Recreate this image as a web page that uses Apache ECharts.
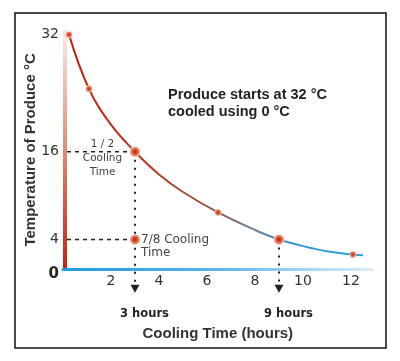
<!DOCTYPE html>
<html><head><meta charset="utf-8">
<script src="https://cdn.jsdelivr.net/npm/echarts@6/dist/echarts.min.js"></script>
<style>html,body{margin:0;padding:0;background:#fff}#c{width:400px;height:361px}</style>
</head><body><div id="c"></div>
<script>
const curveHours = [0.25, 1.08, 2, 3, 4, 5, 6.46, 8, 9, 10, 11, 12.08, 12.5];
const curveTemps = [32, 24.6, 19.7, 16, 12.9, 10.5, 7.7, 5.3, 4.0, 3.1, 2.4, 1.95, 1.85];
const smallDotHours = [0.25, 1.08, 6.46, 12.08];
const smallDotTemps = [32, 24.6, 7.7, 1.95];
const keyDotHours = [3, 3, 9];
const keyDotTemps = [16, 4, 4];
const keyDotLabels = ['1 / 2\nCooling\nTime', '7/8 Cooling\nTime', ''];
const horizGuideHours = [3, 3];
const horizGuideTemps = [16, 4];
const vertGuideHours = [3, 9];
const vertGuideTemps = [16, 4];
const vertGuideLabels = ['3 hours', '9 hours'];
const xTickValues = [2, 4, 6, 8, 10, 12];
const yTickValues = [0, 4, 16, 32];
const xAxisTitle = 'Cooling Time (hours)';
const yAxisTitle = 'Temperature of Produce °C';
const noteLines = ['Produce starts at 32 °C', 'cooled using 0 °C'];

const zip = (a, b) => a.map((v, i) => [v, b[i]]);
const G = echarts.graphic;
const chart = echarts.init(document.getElementById('c'), null, {renderer: 'canvas'});

const smallDotFill = new G.RadialGradient(0.5, 0.5, 0.5, [
  {offset: 0, color: '#c8260e'}, {offset: 0.55, color: '#dc6a4c'}, {offset: 1, color: '#f4cbb9'}]);
const bigDotFill = new G.RadialGradient(0.5, 0.5, 0.5, [
  {offset: 0, color: '#c4200c'}, {offset: 0.5, color: '#da5a38'}, {offset: 1, color: '#f8dccf'}]);

const labelCfg = [
  {show: true, position: 'inside', offset: [-32.5, 7], align: 'center', verticalAlign: 'middle',
   fontFamily: 'DejaVu Sans', fontSize: 10.5, lineHeight: 14, color: '#444'},
  {show: true, position: 'inside', offset: [6, 6.7], align: 'left', verticalAlign: 'middle',
   fontFamily: 'DejaVu Sans', fontSize: 12, lineHeight: 13.5, color: '#444'},
  {show: false}
];

const option = {
  animation: false,
  backgroundColor: '#fff',
  title: {
    text: noteLines.join('\n'), left: 168, top: 86, padding: 0,
    textStyle: {fontFamily: 'Liberation Sans', fontWeight: 'bold', fontSize: 14.5, lineHeight: 17, color: '#222'}
  },
  grid: {left: 63, right: 27.4, top: 31, bottom: 92.2, containLabel: false, outerBoundsMode: 'none'},
  xAxis: {
    type: 'value', min: 0, max: 12.9,
    name: xAxisTitle, nameLocation: 'middle', nameGap: 58, nameMoveOverlap: false,
    nameTextStyle: {fontFamily: 'Liberation Sans', fontWeight: 'bold', fontSize: 15, color: '#333'},
    axisLine: {show: true, onZero: false, lineStyle: {width: 3, color: new G.LinearGradient(0, 0, 1, 0, [
      {offset: 0, color: '#1f9be0'}, {offset: 0.5, color: '#5ab4e8'}, {offset: 1, color: '#dcefFa'}])}},
    axisTick: {show: false},
    splitLine: {show: false},
    axisLabel: {customValues: xTickValues, margin: 6, fontFamily: 'DejaVu Sans', fontSize: 14, color: '#333'}
  },
  yAxis: {
    type: 'value', min: 0, max: 32.5, offset: -2,
    name: yAxisTitle, nameLocation: 'middle', nameGap: 27, nameMoveOverlap: false,
    nameTextStyle: {fontFamily: 'Liberation Sans', fontWeight: 'bold', fontSize: 15, color: '#333'},
    axisLine: {show: true, onZero: false, lineStyle: {width: 4, color: new G.LinearGradient(0, 0, 0, 1, [
      {offset: 0, color: '#fbece6'}, {offset: 0.5, color: '#e28a70'}, {offset: 1, color: '#c2200e'}])}},
    axisTick: {show: false},
    splitLine: {show: false},
    axisLabel: {
      customValues: yTickValues, margin: 6, fontFamily: 'DejaVu Sans', fontSize: 14, color: '#333',
      formatter: v => v === 0 ? '{z|0}' : String(v),
      rich: {z: {fontFamily: 'DejaVu Sans', fontWeight: 'bold', fontSize: 15, color: '#222', padding: [10, 0, 0, 0]}}
    }
  },
  graphic: [{
    type: 'rect', shape: {x: 15, y: 13, width: 371, height: 335},
    style: {fill: 'none', stroke: '#111', lineWidth: 1.5}, z: 0
  }],
  series: [
    {
      type: 'line', data: zip(curveHours, curveTemps), smooth: 0.4, symbol: 'none', z: 2,
      lineStyle: {width: 2, color: new G.LinearGradient(0, 0, 1, 0, [
        {offset: 0, color: '#c4200f'}, {offset: 0.3, color: '#b63a24'}, {offset: 0.5, color: '#935a4c'},
        {offset: 0.62, color: '#6d7f90'}, {offset: 0.75, color: '#3a98d4'}, {offset: 1, color: '#2ea0e0'}])}
    },
    {
      type: 'custom', data: zip(horizGuideHours, horizGuideTemps), encode: {x: 0, y: 1}, z: 3,
      renderItem: (params, api) => {
        const y = api.value(1);
        const p = api.coord([api.value(0), y]);
        const a = api.coord([0, y]);
        return {type: 'line', shape: {x1: a[0] + 4, y1: p[1], x2: p[0] - 6, y2: p[1]},
          style: {stroke: '#222', lineWidth: 1.5, lineDash: [4, 4]}};
      }
    },
    {
      type: 'custom', data: zip(vertGuideHours, vertGuideTemps), encode: {x: 0, y: 1}, z: 3,
      renderItem: (params, api) => {
        const i = params.dataIndex;
        const x = api.value(0);
        const p = api.coord([x, api.value(1)]);
        const b = api.coord([x, 0]);
        return {type: 'group', children: [
          {type: 'line', shape: {x1: p[0], y1: p[1] + 8, x2: p[0], y2: b[1] + 14},
            style: {stroke: '#222', lineWidth: 2, lineDash: [2, 6]}},
          {type: 'polygon', shape: {points: [[p[0] - 4.5, b[1] + 16], [p[0] + 4.5, b[1] + 16], [p[0], b[1] + 24]]},
            style: {fill: '#222'}},
          {type: 'text', x: p[0] + 9.5, y: b[1] + 45,
            style: {text: vertGuideLabels[i], font: 'bold 11.5px "DejaVu Sans"', fill: '#222', align: 'center', verticalAlign: 'middle'}}
        ]};
      }
    },
    {
      type: 'scatter', data: zip(smallDotHours, smallDotTemps), symbolSize: 7, z: 4,
      itemStyle: {color: smallDotFill, opacity: 1}
    },
    {
      type: 'scatter', symbolSize: 11, z: 5,
      data: keyDotHours.map((h, i) => ({value: [h, keyDotTemps[i]], label: Object.assign({formatter: keyDotLabels[i]}, labelCfg[i])})),
      itemStyle: {color: bigDotFill, opacity: 1}
    }
  ]
};
chart.setOption(option);
</script>
</body></html>
